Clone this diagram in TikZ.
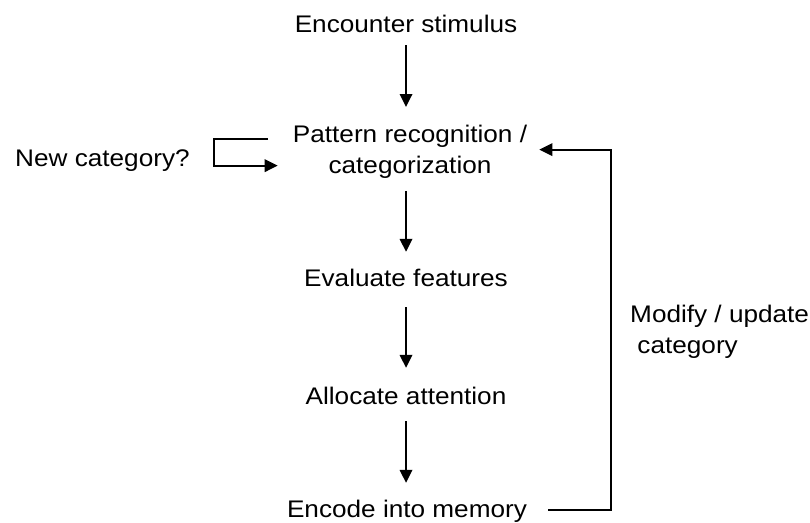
\documentclass[tikz,border=0pt]{standalone}
\usepackage{fontspec}
\setmainfont{Liberation Sans}[FakeStretch=1.09]
\usetikzlibrary{arrows.meta}
\begin{document}
\begin{tikzpicture}[x=1pt,y=-1pt,
  lbl/.style={font=\fontsize{24}{32}\selectfont, inner sep=0pt, text height=17pt, text depth=5pt},
  mlbl/.style={font=\fontsize{24}{31.5}\selectfont, inner sep=0pt},
  arr/.style={line width=1.8pt, -{Triangle[length=13pt,width=12.5pt]}}]
\useasboundingbox (0,0) rectangle (810,522);
\node[lbl, anchor=base] (enc) at (406,32) {Encounter stimulus};
\node[mlbl, align=center, anchor=north] (pat) at (410,124.5) {Pattern recognition /\\categorization};
\node[lbl, anchor=base] (eva) at (406,286) {Evaluate features};
\node[lbl, anchor=base] (all) at (406,404) {Allocate attention};
\node[lbl, anchor=base] (mem) at (407,517) {Encode into memory};
\node[lbl, anchor=base west] (nc) at (15,166) {New category?};
\node[mlbl, align=left, anchor=north west] (mod) at (630,304.5) {Modify / update\\\ category};
\coordinate (ncs) at (268,139);
\draw[arr, shorten <=8pt, shorten >=17.5pt] (enc.south) -- (enc.south |- pat.north);
\draw[arr, shorten <=12pt, shorten >=17pt] (eva.north |- pat.south) -- (eva.north);
\draw[arr, shorten <=16pt, shorten >=19pt] (eva.south) -- (all.north);
\draw[arr, shorten <=12pt, shorten >=17pt] (all.south) -- (all.south |- mem.north);
\draw[arr, shorten <=21pt, shorten >=12pt] ([yshift=1pt]mem.east) -- ++(84,0) |- ([yshift=2pt]pat.east);
\draw[arr, shorten >=15pt] (ncs) -- ++(-54,0) |- ([yshift=-14pt]pat.west);
\end{tikzpicture}
\end{document}
